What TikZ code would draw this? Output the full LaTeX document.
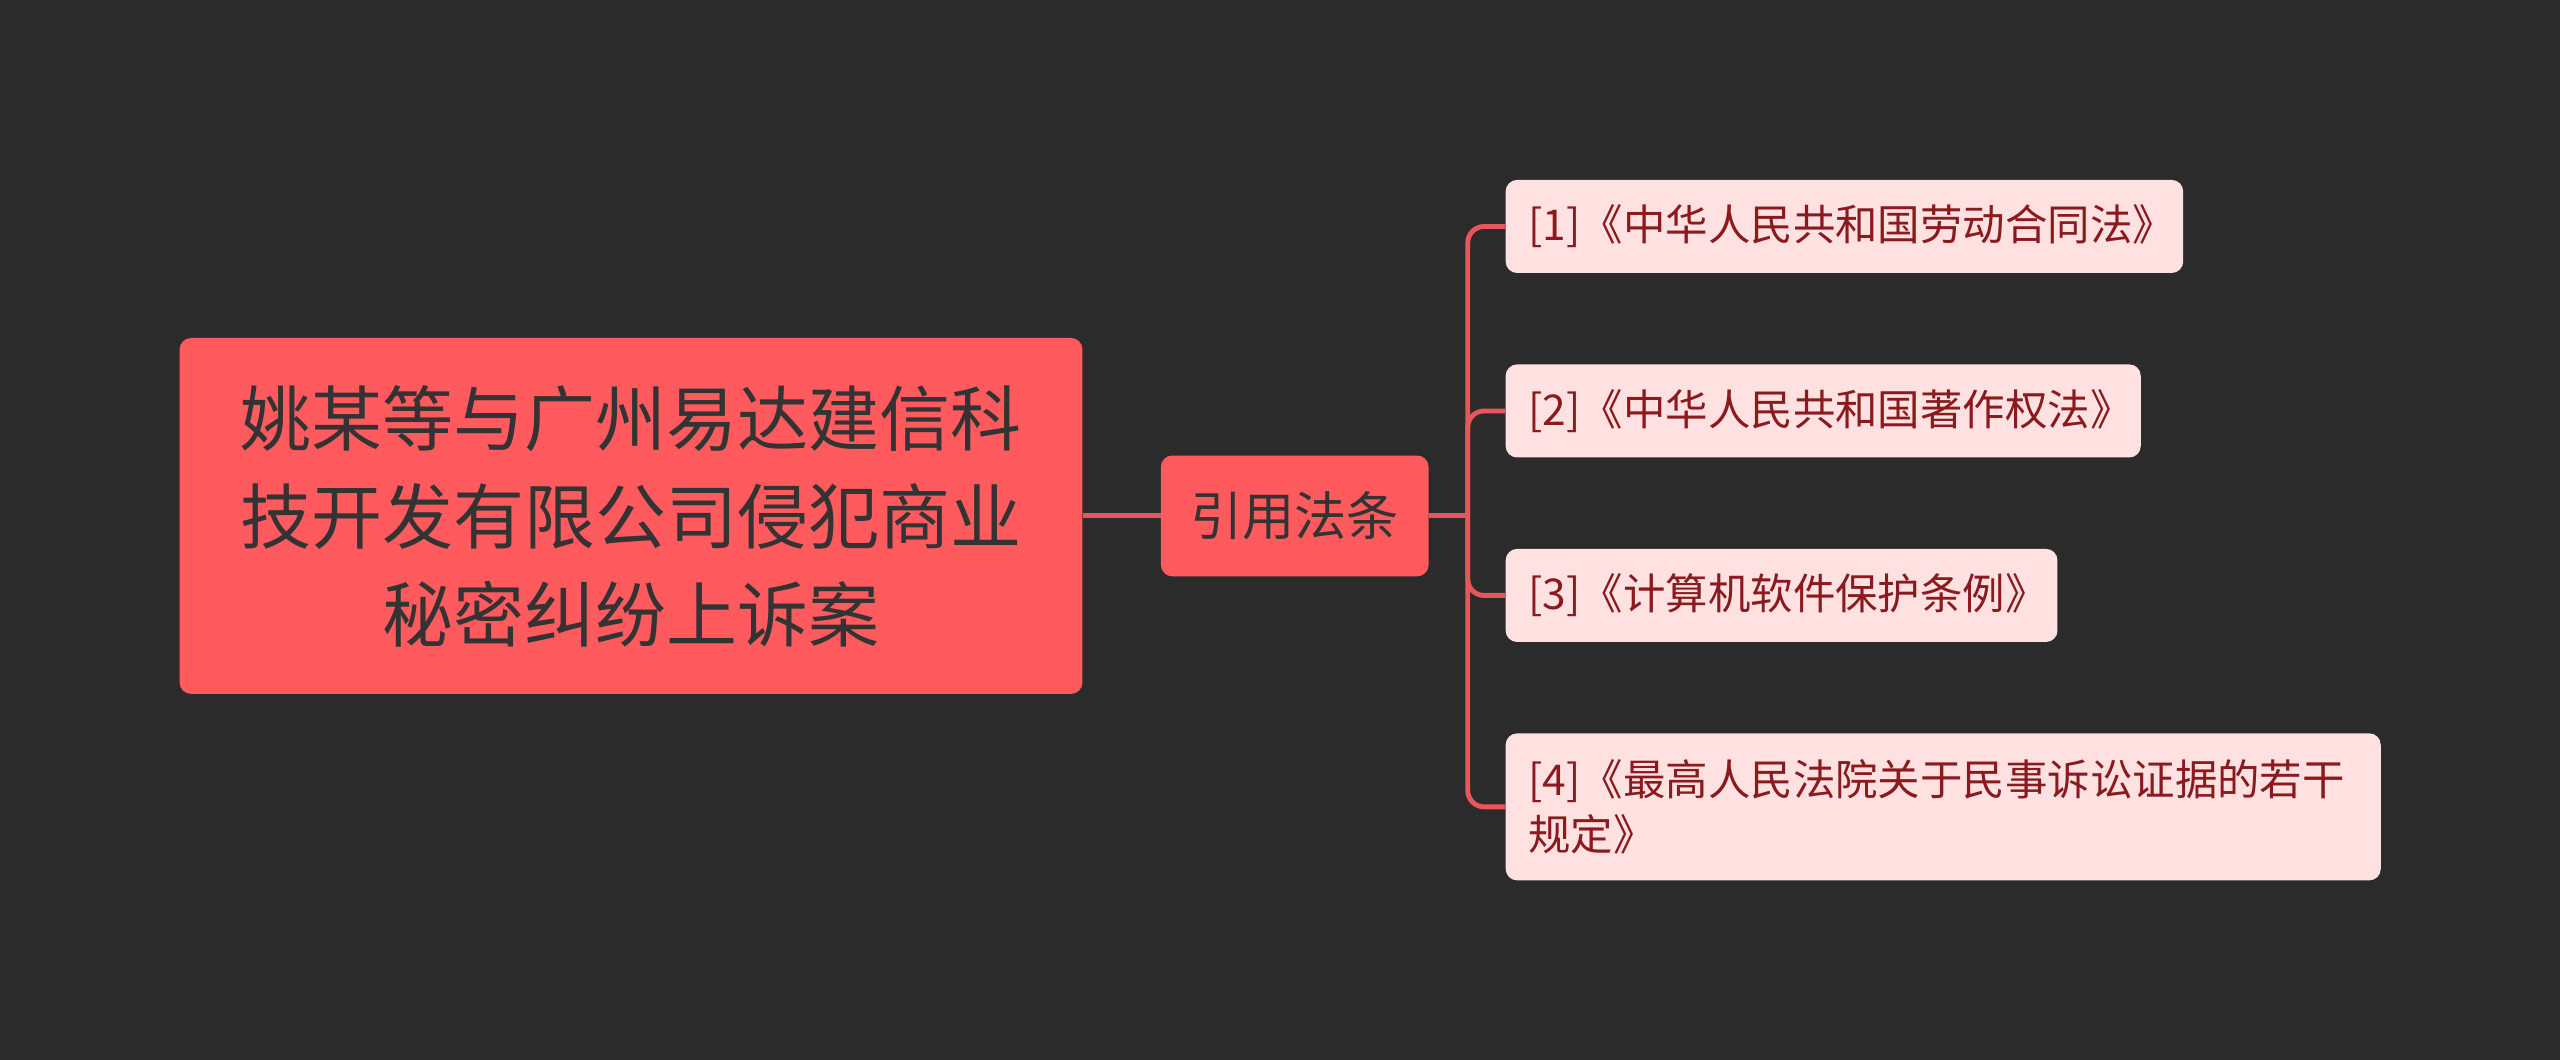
\documentclass[tikz,border=0pt]{standalone}
\usepackage{fontspec}
\setmainfont{Noto Sans CJK SC}
\definecolor{bg}{HTML}{2B2B2B}
\definecolor{rootc}{HTML}{FF5A5E}
\definecolor{leaff}{HTML}{FFE1E1}
\definecolor{leaft}{HTML}{8A1A1E}
\definecolor{linec}{HTML}{E8555A}
\begin{document}
\begin{tikzpicture}[x=1pt,y=-1pt,
 rootbox/.style={fill=rootc,rounded corners=7pt,inner sep=0pt},
 leafbox/.style={fill=leaff,rounded corners=7pt,inner sep=0pt},
 leaftext/.style={anchor=west,text=leaft,inner sep=0pt,xshift=14pt,font=\fontsize{26pt}{34pt}\selectfont,align=left},
 conn/.style={draw=linec,line width=3pt,rounded corners=10pt}]
\fill[bg] (0,0) rectangle (1568,649);
\useasboundingbox (0,0) rectangle (1568,649);
\node[rootbox,minimum width=553pt,minimum height=218pt] (root) at (386.5,316) {};
\node[text=black!80,font=\fontsize{43.5pt}{60pt}\selectfont,align=center] at (root) {姚某等与广州易达建信科\\技开发有限公司侵犯商业\\秘密纠纷上诉案};
\node[rootbox,minimum width=164pt,minimum height=74pt,font=\fontsize{32pt}{36pt}\selectfont,text=black!80] (mid) at (793,316) {引用法条};
\node[leafbox,minimum width=415pt,minimum height=57pt,anchor=north west] (l1) at (922,110) {};
\node[leaftext] at (l1.west) {[1]《中华人民共和国劳动合同法》};
\node[leafbox,minimum width=389pt,minimum height=57pt,anchor=north west] (l2) at (922,223) {};
\node[leaftext] at (l2.west) {[2]《中华人民共和国著作权法》};
\node[leafbox,minimum width=338pt,minimum height=57pt,anchor=north west] (l3) at (922,336) {};
\node[leaftext] at (l3.west) {[3]《计算机软件保护条例》};
\node[leafbox,minimum width=536pt,minimum height=90pt,anchor=north west] (l4) at (922,449) {};
\node[leaftext] at (l4.west) {[4]《最高人民法院关于民事诉讼证据的若干\\规定》};
\draw[conn] (root.east) -- (mid.west);
\coordinate (t) at (899,316);
\draw[conn] (mid.east) -- (t);
\draw[conn] (t) |- (l1.west);
\draw[conn] (t) |- (l2.west);
\draw[conn] (t) |- (l3.west);
\draw[conn] (t) |- (l4.west);
\end{tikzpicture}
\end{document}
